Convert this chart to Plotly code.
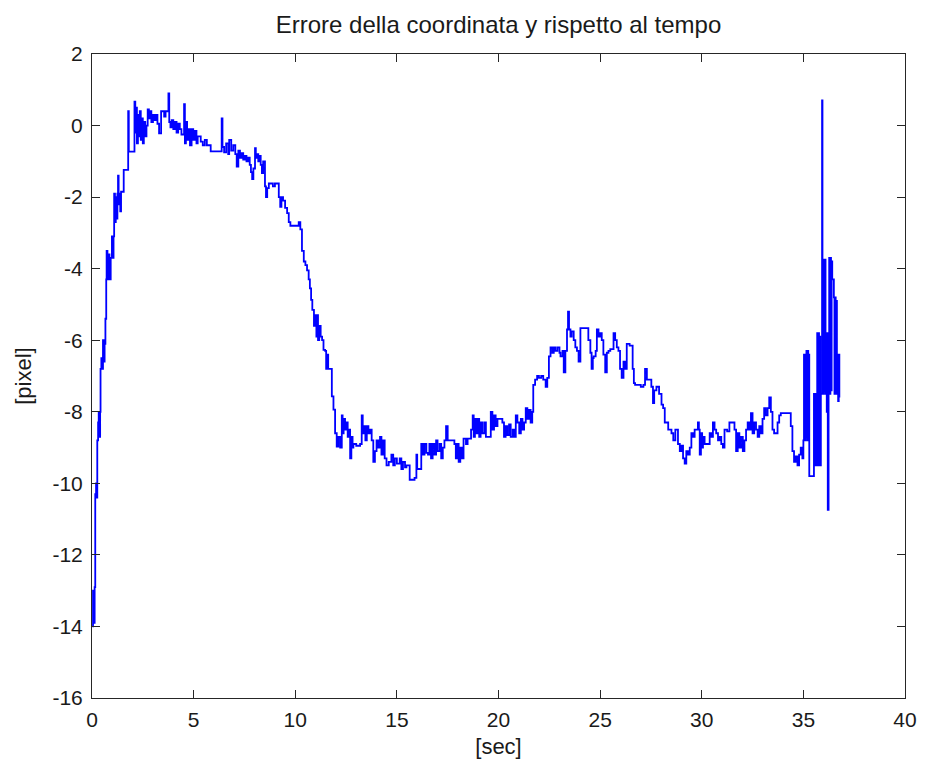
import plotly.graph_objects as go

# Time axis [s] and y-coordinate error [pixel], sampled along the trace
t_sec = [
    0.02, 0.05, 0.09, 0.13, 0.16, 0.20, 0.23, 0.26, 0.30, 0.33, 0.36, 0.40, 0.42, 0.46, 0.50, 0.54,
    0.58, 0.62, 0.66, 0.70, 0.72, 0.76, 0.80, 0.86, 0.92, 0.98, 1.02, 1.06, 1.09, 1.13, 1.17, 1.21,
    1.25, 1.28, 1.31, 1.35, 1.39, 1.43, 1.56, 1.78, 1.81, 2.09, 2.13, 2.17, 2.21, 2.26, 2.30, 2.35,
    2.40, 2.45, 2.50, 2.55, 2.62, 2.68, 2.74, 2.80, 2.86, 2.92, 3.00, 3.06, 3.14, 3.22, 3.30, 3.40,
    3.55, 3.62, 3.76, 3.80, 3.86, 3.92, 4.00, 4.08, 4.16, 4.24, 4.32, 4.40, 4.53, 4.57, 4.62, 4.68,
    4.75, 4.82, 4.90, 4.98, 5.06, 5.14, 5.20, 5.35, 5.45, 5.55, 5.65, 5.84, 6.38, 6.42, 6.50, 6.60,
    6.70, 6.75, 6.85, 6.95, 7.05, 7.12, 7.20, 7.28, 7.36, 7.44, 7.52, 7.60, 7.68, 7.76, 7.82, 7.88,
    7.94, 8.02, 8.06, 8.12, 8.18, 8.24, 8.30, 8.36, 8.42, 8.51, 8.56, 8.62, 8.70, 8.90, 9.00, 9.19,
    9.26, 9.32, 9.40, 9.50, 9.60, 9.68, 9.76, 10.17, 10.25, 10.33, 10.42, 10.50, 10.58, 10.66, 10.72, 10.78,
    10.84, 10.92, 10.98, 11.04, 11.08, 11.12, 11.18, 11.25, 11.32, 11.39, 11.47, 11.52, 11.56, 11.62, 11.80, 11.88,
    11.96, 12.04, 12.12, 12.21, 12.29, 12.33, 12.38, 12.45, 12.52, 12.58, 12.62, 12.70, 12.76, 12.82, 12.86, 13.00,
    13.19, 13.27, 13.32, 13.38, 13.45, 13.52, 13.60, 13.68, 13.76, 13.84, 13.92, 14.00, 14.08, 14.17, 14.24, 14.32,
    14.40, 14.49, 14.60, 14.73, 14.82, 14.90, 15.00, 15.14, 15.22, 15.30, 15.40, 15.47, 15.63, 15.87, 15.96, 16.00,
    16.12, 16.20, 16.28, 16.36, 16.45, 16.53, 16.60, 16.68, 16.76, 16.85, 16.93, 17.00, 17.10, 17.18, 17.26, 17.34,
    17.42, 17.50, 17.83, 17.90, 17.96, 18.04, 18.12, 18.20, 18.28, 18.40, 18.48, 18.65, 18.73, 18.78, 18.84, 18.89,
    18.97, 19.05, 19.12, 19.20, 19.30, 19.38, 19.62, 19.70, 19.78, 19.86, 19.95, 20.19, 20.27, 20.35, 20.43, 20.52,
    20.60, 20.70, 20.78, 20.85, 20.93, 21.02, 21.10, 21.18, 21.26, 21.34, 21.42, 21.50, 21.58, 21.66, 21.71, 21.80,
    21.90, 21.99, 22.10, 22.20, 22.32, 22.40, 22.48, 22.56, 22.65, 22.72, 22.80, 22.90, 23.00, 23.05, 23.15, 23.21,
    23.29, 23.37, 23.42, 23.47, 23.54, 23.60, 23.70, 23.78, 23.86, 23.94, 24.03, 24.35, 24.42, 24.52, 24.58, 24.64,
    24.68, 24.78, 24.84, 24.92, 25.00, 25.08, 25.16, 25.25, 25.33, 25.41, 25.50, 25.66, 25.74, 25.82, 25.90, 25.98,
    26.06, 26.15, 26.23, 26.31, 26.45, 26.60, 26.66, 26.72, 27.00, 27.13, 27.21, 27.30, 27.52, 27.60, 27.66, 27.77,
    27.90, 28.02, 28.10, 28.18, 28.35, 28.51, 28.60, 28.70, 28.83, 28.92, 29.00, 29.08, 29.16, 29.24, 29.32, 29.41,
    29.49, 29.57, 29.65, 29.81, 29.86, 29.90, 29.96, 30.02, 30.06, 30.14, 30.39, 30.47, 30.55, 30.63, 30.71, 30.80,
    30.87, 30.96, 31.04, 31.12, 31.25, 31.36, 31.61, 31.69, 31.77, 31.85, 31.93, 32.02, 32.10, 32.18, 32.26, 32.34,
    32.42, 32.50, 32.58, 32.67, 32.75, 32.83, 32.91, 32.99, 33.07, 33.15, 33.24, 33.32, 33.40, 33.48, 33.56, 33.73,
    33.81, 33.89, 34.38, 34.46, 34.54, 34.62, 34.71, 34.79, 34.87, 34.95, 35.00, 35.03, 35.06, 35.09, 35.12, 35.15,
    35.18, 35.21, 35.24, 35.27, 35.29, 35.52, 35.55, 35.58, 35.61, 35.64, 35.68, 35.71, 35.74, 35.77, 35.80, 35.83,
    35.86, 35.92, 35.94, 35.97, 36.00, 36.03, 36.06, 36.09, 36.12, 36.15, 36.18, 36.20, 36.24, 36.27, 36.30, 36.33,
    36.36, 36.39, 36.42, 36.50, 36.53, 36.56, 36.59, 36.62, 36.65, 36.68, 36.71, 36.74, 36.77,
]

err_px = [
    -14.0, -13.0, -13.9, -12.9, -10.3, -10.0, -10.4, -8.8, -8.3, -8.0, -8.7, -8.0, -6.8, -6.5, -6.8, -6.0,
    -6.6, -6.1, -5.4, -4.3, -3.5, -4.3, -3.6, -4.3, -3.7, -3.1, -3.7, -3.1, -1.9, -2.7, -2.0, -2.6,
    -1.9, -1.4, -2.2, -1.9, -2.4, -1.85, -1.24, 0.4, -0.73, 0.67, -0.2, 0.5, -0.5, 0.3, -0.3, 0.4,
    -0.4, 0.2, -0.5, 0.1, -0.3, 0.0, 0.45, 0.2, 0.4, 0.1, 0.3, 0.15, 0.3, 0.05, -0.22, 0.4,
    0.25, 0.4, 0.9, 0.1, -0.05, 0.15, -0.1, 0.1, -0.2, 0.05, -0.1, -0.25, 0.6, -0.5, 0.1, -0.4,
    -0.1, -0.55, -0.1, -0.4, -0.15, -0.5, -0.3, -0.45, -0.55, -0.4, -0.55, -0.72, 0.2, -0.6, -0.75, -0.5,
    -0.8, -0.4, -0.7, -0.55, -0.8, -1.15, -0.7, -0.9, -0.77, -0.95, -0.85, -1.0, -0.9, -1.1, -1.3, -1.5,
    -1.2, -0.63, -0.9, -0.8, -1.0, -0.85, -1.1, -1.33, -1.0, -1.7, -2.0, -1.75, -1.62, -1.7, -1.62, -2.0,
    -2.27, -2.0, -2.1, -2.3, -2.45, -2.7, -2.8, -2.7, -2.9, -3.5, -3.8, -3.9, -4.05, -4.3, -4.55, -4.87,
    -5.15, -5.6, -5.3, -5.9, -5.3, -6.0, -5.6, -5.9, -6.0, -6.27, -6.3, -6.8, -6.4, -6.8, -7.57, -7.94,
    -8.6, -8.97, -8.7, -9.0, -8.1, -8.6, -8.2, -8.5, -8.3, -8.7, -8.5, -9.3, -8.7, -9.0, -8.9, -8.95,
    -8.9, -8.1, -8.6, -8.4, -8.8, -8.4, -8.6, -8.5, -8.8, -9.4, -9.1, -8.8, -9.0, -8.7, -9.2, -8.8,
    -9.3, -9.5, -9.4, -9.2, -9.5, -9.3, -9.45, -9.3, -9.6, -9.4, -9.55, -9.5, -9.9, -9.85, -9.2, -9.6,
    -9.6, -8.9, -9.2, -8.9, -9.15, -9.2, -8.9, -9.3, -8.9, -9.2, -8.8, -9.1, -8.9, -9.3, -9.0, -8.8,
    -8.4, -8.8, -8.9, -9.3, -8.9, -9.4, -9.0, -9.3, -8.75, -8.9, -8.75, -8.5, -8.1, -8.7, -8.2, -8.6,
    -8.2, -8.7, -8.3, -8.6, -8.3, -8.7, -8.0, -8.5, -8.1, -8.4, -8.2, -8.3, -8.7, -8.4, -8.65, -8.35,
    -8.7, -8.5, -8.7, -8.1, -8.3, -8.6, -8.2, -8.5, -8.3, -7.9, -8.2, -7.95, -8.3, -8.0, -7.25, -7.1,
    -7.0, -7.05, -7.0, -7.1, -7.3, -7.05, -6.45, -6.2, -6.35, -6.2, -6.3, -6.2, -6.35, -6.45, -6.3, -6.9,
    -6.3, -5.7, -5.2, -5.7, -5.9, -5.75, -6.0, -6.2, -6.3, -6.6, -5.66, -5.66, -6.0, -6.35, -6.8, -6.5,
    -6.45, -6.3, -5.7, -5.9, -5.8, -6.0, -6.4, -6.9, -6.35, -6.3, -6.25, -5.8, -6.0, -6.2, -6.3, -6.8,
    -7.05, -6.6, -6.8, -6.1, -6.15, -6.8, -7.2, -7.25, -7.3, -7.25, -6.8, -7.1, -7.3, -7.76, -7.4, -7.3,
    -7.5, -7.8, -7.9, -8.3, -8.5, -8.6, -8.8, -8.5, -8.9, -9.1, -8.95, -9.3, -9.45, -9.1, -9.2, -9.0,
    -8.6, -8.7, -8.5, -8.3, -8.5, -9.2, -8.6, -9.0, -8.7, -8.9, -8.6, -8.7, -8.3, -8.5, -8.6, -8.8,
    -8.7, -8.9, -9.0, -8.5, -8.55, -8.3, -8.5, -9.1, -8.6, -9.0, -8.7, -9.1, -8.8, -8.5, -8.3, -8.5,
    -8.04, -8.6, -8.3, -8.5, -8.7, -8.4, -8.6, -8.2, -7.9, -8.1, -7.9, -7.6, -8.0, -8.5, -8.6, -8.3,
    -8.1, -8.04, -8.4, -9.1, -9.4, -9.25, -9.5, -9.2, -9.0, -9.3, -8.8, -6.4, -8.8, -6.4, -8.7, -6.3,
    -8.8, -6.3, -8.8, -6.4, -9.8, -7.5, -9.5, -7.5, -9.5, -7.6, -5.8, -9.5, -5.8, -9.4, -5.9, -9.5,
    -7.5, 0.7, -3.75, -7.5, -3.8, -7.4, -3.75, -7.5, -5.8, -8.0, -5.8, -10.74, -5.9, -3.7, -7.5, -3.7,
    -7.4, -3.8, -4.3, -4.8, -7.5, -4.8, -7.5, -4.9, -7.5, -6.4, -7.7, -6.4, -7.6,
]

x_ticks = [0, 5, 10, 15, 20, 25, 30, 35, 40]
y_ticks = [-16, -14, -12, -10, -8, -6, -4, -2, 0, 2]
y_tick_labels = [str(v) for v in y_ticks]  # plain hyphen-minus labels

FONT = "Liberation Sans, Arial, sans-serif"
AXIS_COLOR = "#262626"
TEXT_COLOR = "#1a1a1a"

fig = go.Figure(
    go.Scatter(
        x=t_sec,
        y=err_px,
        mode="lines",
        line=dict(color="#0000FF", width=1.8, shape="hv"),
        hoverinfo="x+y",
        showlegend=False,
    )
)

axis_common = dict(
    showline=True,
    linecolor=AXIS_COLOR,
    linewidth=1,
    mirror="ticks",
    ticks="inside",
    ticklen=8,
    tickwidth=1,
    tickcolor=AXIS_COLOR,
    showgrid=False,
    zeroline=False,
    tickfont=dict(family=FONT, size=21, color=TEXT_COLOR),
    title_font=dict(family=FONT, size=22, color=TEXT_COLOR),
)

fig.update_layout(
    width=929,
    height=769,
    margin=dict(l=92, r=21, t=54, b=71),
    paper_bgcolor="white",
    plot_bgcolor="white",
    title=dict(
        text="Errore della coordinata y rispetto al tempo",
        font=dict(family=FONT, size=24, color=TEXT_COLOR),
        x=0.5,
        xref="paper",
        xanchor="center",
        y=1 - 25 / 769,
        yref="container",
        yanchor="middle",
    ),
    xaxis=dict(
        range=[0, 40],
        tickmode="array",
        tickvals=x_ticks,
        title=dict(text="[sec]", standoff=8),
        ticklabelstandoff=3,
        **axis_common,
    ),
    yaxis=dict(
        range=[-16, 2],
        tickmode="array",
        tickvals=y_ticks,
        ticktext=y_tick_labels,
        title=dict(text="[pixel]", standoff=14),
        ticklabelstandoff=4,
        **axis_common,
    ),
)

fig.write_html("out.html")
